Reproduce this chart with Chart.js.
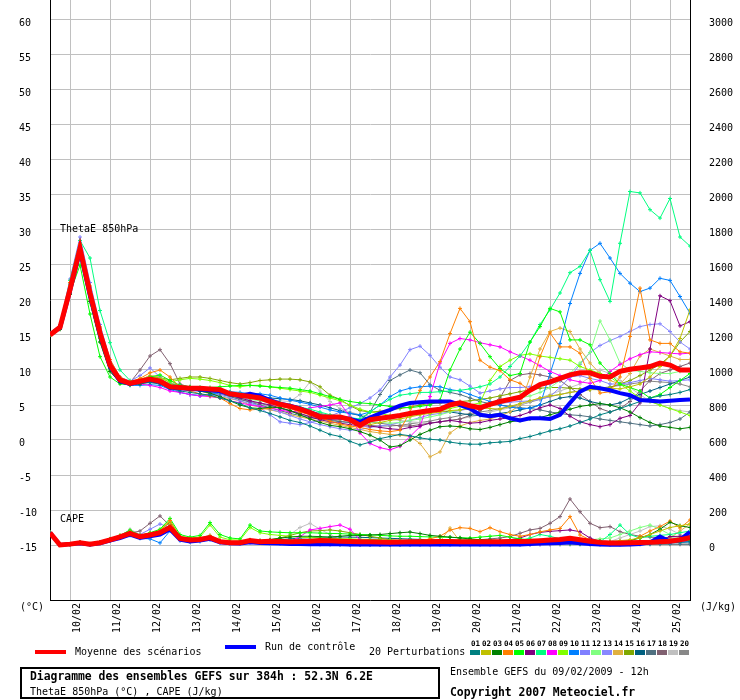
<!DOCTYPE html>
<html><head><meta charset="utf-8">
<script src="https://cdn.jsdelivr.net/npm/chart.js@4.4.1/dist/chart.umd.min.js"></script>
<style>
html,body{margin:0;padding:0;background:#fff;}
#wrap{position:relative;width:740px;height:700px;overflow:hidden;font-family:'DejaVu Sans Mono',monospace;font-size:10px;color:#000;background:#fff;}
#c{position:absolute;left:0;top:0;}
.t{position:absolute;line-height:12px;white-space:pre;}
.b{font-weight:bold;font-size:11.4px;}
.ln{position:absolute;height:4px;width:31px;}
.sw{position:absolute;top:650px;width:10px;height:5px;}
.sl{position:absolute;top:639px;width:11px;text-align:center;font-weight:bold;font-size:7.5px;line-height:9px;}
#box{position:absolute;left:20px;top:667px;width:420px;height:32px;border:2px solid #000;box-sizing:border-box;}
</style></head>
<body><div id="wrap"><canvas id="c" width="740" height="700"></canvas>
<div class="t" style="left:60px;top:223px">ThetaE 850hPa</div>
<div class="t" style="left:60px;top:513px">CAPE</div>
<div class="t" style="left:20px;top:601px">(°C)</div>
<div class="t" style="left:700px;top:601px">(J/kg)</div>
<div class="ln" style="left:35px;top:650px;background:#ff0000"></div>
<div class="t" style="left:75px;top:646px">Moyenne des scénarios</div>
<div class="ln" style="left:225px;top:645px;background:#0000ff"></div>
<div class="t" style="left:265px;top:641px">Run de contrôle</div>
<div class="t" style="left:369px;top:646px">20 Perturbations</div>
<div id="box"></div>
<div class="t b" style="left:30px;top:670px">Diagramme des ensembles GEFS sur 384h : 52.3N 6.2E</div>
<div class="t" style="left:30px;top:686px">ThetaE 850hPa (°C) , CAPE (J/kg)</div>
<div class="t" style="left:450px;top:666px">Ensemble GEFS du 09/02/2009 - 12h</div>
<div class="t b" style="left:450px;top:686px">Copyright 2007 Meteociel.fr</div>
</div>
<script>
// ---- Data ----
const xLabels = ['10/02','11/02','12/02','13/02','14/02','15/02','16/02','17/02','18/02','19/02','20/02','21/02','22/02','23/02','24/02','25/02'];
const dayHours = [12,36,60,84,108,132,156,180,204,228,252,276,300,324,348,372];
const yTicks = [60,55,50,45,40,35,30,25,20,15,10,5,0,-5,-10,-15];
const y2Ticks = [3000,2800,2600,2400,2200,2000,1800,1600,1400,1200,1000,800,600,400,200,0];
const hours = Array.from({length:65},(_,i)=>i*6);
const pertNames = ['01','02','03','04','05','06','07','08','09','10','11','12','13','14','15','16','17','18','19','20'];
const pertColors = ['#008080','#c0c000','#008000','#ff8000','#00ff00','#800080','#00ff80','#ff00ff','#80ff00','#0080ff','#8080ff','#80ff80','#8888ff','#e0b040','#80a800','#006080','#507080','#806070','#c0c0c0','#888888'];

const thetaMean = [15.0,16.1,21.5,27.4,21.0,15.3,10.7,8.6,8.1,8.4,8.7,8.4,7.6,
7.5,7.4,7.4,7.3,7.2,6.6,6.4,6.2,6.0,5.5,5.1,4.8,4.4,
3.9,3.3,3.3,3.3,2.9,2.1,2.9,3.1,3.3,3.5,3.8,4.0,4.2,
4.4,5.0,5.3,4.9,4.6,5.1,5.5,5.8,6.1,7.1,7.9,8.3,8.8,
9.3,9.6,9.6,9.1,9.0,9.8,10.1,10.3,10.5,11.0,10.7,10.0,10.0];
const thetaCtrl = [15.1,16.0,21.3,27.0,20.6,15.0,10.5,8.4,8.0,8.3,8.6,8.3,7.5,
7.4,7.3,7.2,7.1,7.0,6.5,6.3,6.6,6.3,5.7,5.2,4.9,4.5,
4.0,3.4,3.2,3.2,3.0,2.6,3.2,3.8,4.3,4.9,5.3,5.4,5.5,
5.5,5.5,5.0,4.5,3.6,3.4,3.6,3.1,2.8,3.1,3.1,3.0,3.6,
5.3,6.9,7.6,7.4,7.1,6.7,6.4,5.7,5.6,5.5,5.6,5.7,5.8];
const tP01 = [15.2,16.0,21.0,27.0,20.5,14.8,10.2,8.4,8.0,8.1,8.2,8.0,7.4,
7.0,6.8,6.6,6.4,6.0,5.6,5.2,4.6,4.2,3.8,3.3,2.8,2.5,
2.0,1.4,0.8,0.5,-0.2,-0.7,-0.3,0.2,0.5,0.8,0.6,0.3,0.1,
0.0,-0.3,-0.5,-0.6,-0.6,-0.4,-0.3,-0.2,0.2,0.5,0.9,1.3,1.6,
2.0,2.5,3.0,3.6,4.0,4.5,5.0,5.5,6.0,6.3,6.5,6.8,7.2];
const tP02 = [15.1,16.2,22.0,27.8,21.5,15.8,11.0,8.8,8.2,8.6,8.9,8.7,7.9,
7.6,7.5,7.4,7.2,7.0,6.6,6.3,6.0,5.8,5.6,5.2,4.9,4.5,
4.1,3.6,3.2,3.0,2.8,2.5,2.2,2.5,2.8,3.0,3.3,3.6,3.8,
4.0,4.2,4.3,4.5,4.6,4.5,4.4,4.8,5.2,5.6,6.0,6.3,6.5,
6.8,7.0,7.2,7.5,7.4,7.3,7.6,8.0,9.0,10.5,12.0,14.5,18.6];
const tP03 = [15.0,15.8,20.8,26.5,19.8,14.0,9.8,8.2,7.9,8.0,8.3,8.1,7.5,
7.3,7.2,7.0,6.7,6.2,5.6,5.0,4.6,4.5,4.7,4.6,4.2,3.6,
3.0,2.5,2.1,1.9,1.6,1.2,0.7,0.0,-1.0,-0.8,0.0,0.8,1.4,
1.9,2.0,1.9,1.6,1.5,1.8,2.2,2.6,2.8,3.0,3.2,3.6,4.0,
4.4,4.8,5.0,5.2,5.0,4.6,4.0,3.2,2.5,2.0,1.8,1.6,1.8];
const tP04 = [15.3,16.3,22.5,28.0,22.0,16.0,11.5,9.0,8.3,8.8,9.6,10.0,9.0,
7.5,7.0,6.6,6.3,6.0,5.2,4.5,4.3,4.4,4.5,4.8,4.5,4.0,
3.6,3.2,2.7,2.3,2.0,1.8,1.5,1.3,1.2,1.4,4.0,7.1,9.0,
11.2,15.2,18.8,16.9,11.4,10.4,9.9,8.6,8.1,7.1,11.9,15.3,13.3,
13.3,12.4,8.8,6.7,6.9,9.0,14.8,21.7,14.3,13.8,13.8,12.6,12.4];
const tP05 = [15.1,15.9,21.0,25.0,18.0,11.9,9.0,8.0,7.9,8.2,9.0,9.3,8.5,
7.8,7.6,7.5,7.5,7.6,7.7,7.8,7.8,7.7,7.6,7.5,7.4,7.2,
7.0,6.6,6.2,5.8,5.5,5.3,5.2,5.0,4.8,4.7,4.6,4.8,5.0,
5.7,10.0,13.0,15.4,13.8,11.9,10.2,9.2,9.5,14.0,16.2,18.8,18.3,
14.3,14.3,13.6,11.0,9.5,8.0,7.5,7.0,6.0,6.5,7.5,8.5,9.5];
const tP06 = [15.0,16.0,21.2,27.2,20.8,15.0,10.5,8.5,8.0,8.3,8.5,8.2,7.5,
7.3,7.2,7.1,7.0,6.8,6.4,6.0,5.6,5.3,5.0,4.6,4.2,3.8,
3.3,2.9,2.6,2.4,2.2,2.0,2.0,1.8,1.6,1.5,1.8,2.0,2.4,
2.6,2.8,2.6,2.4,2.5,2.8,3.0,3.2,3.5,4.0,4.6,5.0,4.5,
3.4,2.6,2.2,1.9,2.2,3.1,3.5,5.3,13.0,20.6,19.9,16.3,16.9];
const tP07 = [15.2,16.4,22.8,28.5,26.0,18.5,13.9,10.0,8.5,8.4,8.5,8.4,8.0,
7.8,7.6,7.5,7.3,7.0,6.8,6.6,6.3,6.0,5.7,5.3,5.0,4.7,
4.4,4.0,3.6,3.4,3.2,3.0,4.0,5.0,5.8,6.4,6.6,6.8,6.8,
6.9,7.0,7.1,7.3,7.6,8.0,9.0,10.5,12.0,14.0,16.5,18.6,21.0,
23.9,24.8,27.1,22.9,19.8,28.1,35.5,35.3,32.9,31.7,34.5,29.0,27.7];
const tP08 = [15.1,16.1,21.8,27.6,21.2,15.5,10.8,8.6,8.1,8.0,7.8,7.5,7.0,
6.8,6.5,6.3,6.2,6.0,5.6,5.3,5.0,4.8,4.6,4.3,4.0,4.2,
4.6,4.8,5.0,5.3,3.3,1.0,-0.5,-1.1,-1.4,-0.9,0.5,1.9,6.2,
11.0,13.8,14.5,14.3,13.9,13.6,13.3,12.6,12.0,11.4,10.6,9.8,9.2,
8.6,8.3,8.1,8.5,9.8,10.8,11.6,12.2,12.6,12.5,12.4,12.3,12.4];
const tP09 = [15.0,16.0,21.3,27.0,20.0,14.5,10.0,8.4,8.1,8.6,9.0,8.8,8.3,
8.6,8.8,8.7,8.5,8.2,7.8,7.6,7.8,7.8,7.6,7.4,7.2,7.0,
6.8,6.4,6.0,5.6,5.0,4.4,4.0,3.8,3.5,3.3,3.5,3.7,3.9,
4.2,4.5,4.8,5.0,5.3,8.5,10.5,11.4,12.1,12.3,12.0,11.8,11.6,
11.4,10.5,10.0,9.5,9.0,8.0,7.0,6.0,5.5,5.0,4.5,4.0,3.5];
const tP10 = [15.1,16.2,21.6,27.2,20.5,15.0,10.5,8.2,7.8,7.8,7.9,7.8,7.2,
6.8,6.5,6.3,6.5,6.8,6.9,6.8,6.6,6.6,6.4,6.0,5.7,5.4,
5.1,4.7,4.3,4.0,3.8,3.6,4.0,5.0,6.2,7.0,7.4,7.6,7.7,
7.6,7.2,7.0,6.5,6.0,5.5,5.0,4.7,4.5,4.5,5.0,9.5,13.8,
19.5,23.8,27.1,28.1,26.0,23.8,22.4,21.2,21.7,23.1,22.8,20.5,18.1];
const tP11 = [15.3,16.5,23.0,29.0,22.5,16.5,11.5,9.0,8.4,9.2,10.3,9.0,7.5,
6.8,6.5,6.4,6.3,6.5,6.6,6.4,5.6,4.6,3.6,2.6,2.4,2.2,
2.5,2.8,3.4,4.0,4.6,5.2,6.0,7.1,9.0,10.7,12.9,13.4,12.1,
10.4,9.0,8.6,7.7,6.7,7.0,7.3,7.5,7.5,7.6,7.8,8.0,8.5,
9.0,9.2,8.8,8.5,8.0,8.0,8.2,8.5,8.8,8.6,8.4,8.5,8.6];
const tP12 = [15.0,15.9,21.0,26.0,19.5,14.0,9.8,8.2,8.0,8.2,8.5,8.4,7.8,
7.5,7.3,7.2,7.0,6.7,6.3,6.0,5.8,5.6,5.3,5.0,4.6,4.3,
4.0,3.7,3.4,3.2,3.0,2.8,2.6,2.5,2.4,2.5,2.8,3.0,3.3,
3.6,4.0,4.3,4.6,5.0,5.3,5.6,5.8,6.0,6.3,6.8,7.5,8.5,
9.5,11.0,12.5,17.0,14.3,11.0,10.0,9.8,9.6,9.5,9.5,9.8,10.0];
const tP13 = [15.2,16.3,22.2,28.2,21.8,16.0,11.2,8.9,8.3,8.6,9.0,8.7,8.0,
7.6,7.3,7.0,6.7,6.4,6.0,5.6,5.2,4.8,4.4,4.0,3.5,3.0,
2.6,2.2,1.9,1.6,1.4,1.5,1.8,2.0,2.2,2.5,2.8,3.2,3.6,
3.8,4.0,4.2,4.5,4.7,5.0,5.2,5.4,5.5,5.6,5.8,6.2,7.5,
9.0,10.8,12.5,13.5,14.2,14.8,15.5,16.2,16.5,16.6,15.5,14.0,13.0];
const tP14 = [15.3,16.4,22.4,27.6,21.8,16.2,11.2,8.8,8.2,8.6,9.2,9.0,8.2,
7.7,7.4,7.0,6.6,6.2,5.9,5.6,5.0,4.7,4.3,4.0,3.6,3.3,
3.0,2.7,2.4,2.1,1.8,1.5,1.2,1.0,0.8,0.7,0.5,-0.5,-2.4,
-1.7,1.0,2.0,2.5,2.8,3.0,3.5,4.0,5.0,9.0,13.0,15.5,16.0,
15.5,13.0,11.0,9.5,8.5,8.0,9.5,12.0,13.0,12.5,12.0,11.5,11.5];
const tP15 = [15.1,16.2,21.6,27.3,21.2,15.6,11.0,8.7,8.2,8.7,9.0,8.9,8.6,
8.8,9.0,9.0,8.8,8.5,8.2,8.0,8.2,8.5,8.6,8.7,8.7,8.6,
8.3,7.6,6.4,5.8,4.9,4.2,4.0,4.1,4.3,4.5,4.7,5.0,5.2,
5.3,5.4,5.5,5.6,5.8,6.0,6.3,6.6,6.9,7.2,7.4,7.5,7.5,
7.4,7.3,7.2,7.2,7.5,8.0,8.5,9.2,10.0,10.8,12.0,14.0,15.5];
const tP16 = [15.2,16.1,21.9,27.6,21.6,15.7,11.0,8.7,8.1,8.5,8.7,8.5,7.9,
7.6,7.5,7.4,7.3,7.1,6.8,6.6,6.4,6.2,6.0,5.9,5.8,5.6,
5.3,5.0,4.6,4.2,3.8,3.5,3.0,3.0,3.2,3.4,3.6,3.8,4.0,
4.2,4.0,3.8,3.6,3.5,3.6,3.8,4.0,4.3,4.6,5.0,5.5,6.0,
6.2,6.0,5.5,5.2,5.0,5.3,6.0,6.5,7.0,7.5,8.0,8.5,9.0];
const tP17 = [15.0,16.0,21.4,27.2,21.0,15.4,10.9,8.6,8.1,8.5,8.8,8.6,7.8,
7.4,7.2,7.1,6.9,6.6,6.2,5.8,5.4,5.0,4.6,4.2,3.8,3.5,
3.2,3.0,2.8,2.6,2.5,2.8,4.0,6.5,8.5,9.3,10.0,9.6,7.9,
7.1,6.8,6.5,6.0,5.5,5.2,5.0,4.8,4.6,4.5,4.3,4.0,3.8,
3.6,3.5,3.3,3.0,2.8,2.6,2.4,2.2,2.0,2.2,2.5,3.0,4.0];
const tP18 = [15.1,16.1,21.7,27.5,21.4,15.8,11.2,8.7,8.2,10.0,12.0,12.9,10.9,
8.0,7.5,7.2,7.0,6.8,6.5,6.2,6.0,5.8,5.5,5.2,4.8,4.4,
4.1,3.8,3.5,3.2,3.0,2.8,2.6,2.4,2.2,2.0,2.0,2.2,2.4,
2.6,2.8,3.0,3.5,4.2,5.0,6.0,8.5,9.3,9.5,9.3,9.0,8.5,
7.5,6.5,5.5,4.5,4.0,4.5,5.5,7.0,8.5,9.5,10.0,10.5,11.0];
const tP19 = [15.0,16.0,21.5,27.3,21.0,15.3,10.7,8.5,8.1,8.6,9.2,9.0,8.2,
7.8,7.6,7.4,7.3,7.1,6.8,6.5,6.2,6.0,5.8,5.6,5.5,6.5,
8.3,7.0,5.5,4.5,4.0,3.6,3.4,3.2,3.0,2.8,2.6,2.5,2.4,
2.6,2.8,3.0,3.3,3.6,4.0,4.3,4.6,5.0,5.5,6.0,6.5,7.0,
7.5,8.0,9.0,10.0,9.5,8.5,7.5,6.5,5.5,5.0,4.5,4.2,4.0];
const tP20 = [15.2,16.2,22.0,27.8,21.5,15.6,11.0,8.7,8.2,8.5,8.9,8.7,8.0,
7.6,7.4,7.2,7.0,6.6,6.2,5.8,5.5,5.2,4.9,4.5,4.1,3.7,
3.4,3.1,2.9,2.7,2.5,2.3,2.1,2.0,2.0,2.1,2.3,2.5,2.7,
3.0,3.2,3.5,3.8,4.0,4.2,4.5,4.8,5.0,5.4,5.8,6.2,6.5,
6.8,7.0,7.2,7.4,7.6,7.8,8.0,8.2,8.4,8.3,8.2,8.0,7.6];

const capeMean = [70,0,5,13,5,13,29,47,67,47,57,70,101,
38,29,32,42,19,13,13,25,19,22,20,18,20,
22,25,24,22,20,18,18,17,16,17,18,18,19,
20,20,19,18,18,18,19,20,20,21,24,28,32,
38,30,22,15,12,12,13,14,15,18,22,30,42];
const capeCtrl = [70,0,5,10,3,10,25,40,60,40,50,60,90,
30,20,25,35,15,10,8,15,12,10,8,6,5,
5,5,4,4,3,3,3,3,3,3,3,3,3,
3,3,3,3,3,3,3,3,3,5,8,10,12,
15,10,5,3,2,2,3,5,15,48,20,30,76];
const cP01 = [70,0,5,12,5,12,27,45,62,45,52,65,95,
35,25,28,38,17,12,12,22,18,15,12,10,8,
8,7,6,5,5,4,4,3,3,3,4,5,6,
8,10,12,14,16,18,20,20,18,16,14,12,10,
8,6,5,4,4,5,6,8,10,12,14,16,18];
const cP02 = [70,0,5,14,6,14,30,50,72,50,60,75,110,
40,30,34,45,20,14,14,26,20,18,16,15,14,
14,13,12,12,12,11,10,10,10,10,10,12,14,
15,16,18,20,20,20,18,16,15,14,15,18,22,
30,25,20,18,20,25,30,40,60,80,100,110,120];
const cP03 = [70,0,5,13,5,14,30,48,70,50,60,75,105,
40,32,35,45,22,16,16,28,25,30,40,45,50,
50,48,45,50,55,55,57,60,65,70,74,65,55,
50,45,40,35,30,28,25,22,20,20,22,25,28,
30,28,25,22,20,20,25,40,60,90,130,110,100];
const cP04 = [70,0,5,15,6,15,32,52,75,55,65,80,140,
45,35,40,50,25,15,14,25,20,15,12,10,10,
10,10,10,12,12,12,12,12,12,15,20,25,35,
50,85,99,95,76,99,76,60,50,60,75,86,95,
162,57,30,20,15,12,20,50,80,105,137,97,143];
const cP05 = [70,0,5,15,6,16,35,55,85,55,70,90,152,
60,45,55,128,60,40,35,114,80,75,72,70,70,
70,68,66,65,62,60,58,55,52,50,50,48,46,
45,44,42,40,45,50,55,45,35,30,25,20,18,
15,12,10,8,8,10,12,15,18,20,22,25,28];
const cP06 = [70,0,5,13,5,13,28,46,65,46,55,68,98,
36,28,30,40,18,12,12,22,18,15,12,10,8,
7,6,5,5,4,4,4,5,6,8,10,10,10,
12,14,16,18,20,22,25,30,40,60,72,78,82,
86,76,40,20,10,8,8,10,15,30,48,50,52];
const cP07 = [70,0,5,13,5,13,29,47,67,47,57,70,101,
38,29,32,42,19,13,13,25,19,20,22,25,28,
30,30,28,28,26,25,24,22,22,20,20,20,20,
22,25,28,30,28,25,22,20,25,40,60,50,35,
30,25,20,18,60,114,60,40,50,55,60,70,80];
const cP08 = [70,0,5,12,5,12,28,46,64,46,55,68,95,
36,27,30,40,18,12,12,20,15,12,10,20,48,
86,95,105,114,90,29,15,10,8,6,5,5,5,
5,5,5,5,5,5,5,5,5,5,6,8,10,
12,12,10,8,8,10,12,14,16,18,20,22,25];
const cP09 = [70,0,5,14,6,15,33,53,80,55,68,85,140,
50,40,45,115,45,30,28,100,70,60,55,50,45,
42,40,38,36,35,33,32,30,28,26,25,24,22,
20,18,16,15,14,12,10,8,8,8,8,8,8,
8,8,8,8,8,8,10,12,15,20,22,25,28];
const cP10 = [70,0,5,10,3,10,24,40,55,38,35,12,80,
25,18,20,30,12,8,8,15,12,10,8,6,5,
5,4,4,3,3,3,3,3,3,3,3,3,3,
3,3,3,3,3,3,3,3,3,3,5,8,10,
12,10,8,6,5,5,5,6,8,10,12,15,20];
const cP11 = [70,0,5,13,5,14,30,50,70,60,90,120,100,
38,29,32,42,19,13,13,25,19,15,12,10,8,
6,5,5,4,4,4,4,4,4,4,4,4,4,
4,4,4,4,4,4,4,4,4,5,6,8,10,
12,14,16,15,12,10,10,12,14,16,18,20,22];
const cP12 = [70,0,5,13,5,13,29,47,67,47,57,70,105,
38,29,32,45,19,13,13,28,22,18,15,12,10,
10,9,8,8,8,7,7,7,7,7,7,7,7,
7,7,7,7,7,7,8,8,9,10,12,15,18,
20,25,30,35,40,60,80,100,114,90,60,40,30];
const cP13 = [70,0,5,13,5,13,29,47,67,47,57,70,101,
38,29,32,42,19,13,13,25,19,15,12,10,8,
7,6,5,5,4,4,4,4,4,4,4,4,4,
4,4,4,4,4,4,4,4,4,4,4,4,4,
5,5,5,5,5,5,6,8,10,12,14,16,18];
const cP14 = [70,0,5,14,6,14,30,50,72,50,60,75,110,
40,30,34,45,20,14,14,26,20,15,12,10,8,
7,6,5,5,5,5,5,5,5,5,5,5,5,
20,97,20,10,8,8,8,8,8,8,8,8,8,
8,8,8,8,8,8,10,12,15,20,40,80,120];
const cP15 = [70,0,5,14,6,15,32,52,78,55,66,82,130,
45,35,40,55,25,18,16,30,25,30,40,55,70,
80,82,86,80,70,60,50,40,30,25,20,18,16,
15,14,13,12,12,12,12,12,12,12,12,12,12,
12,12,12,12,12,12,12,12,12,14,16,18,20];
const cP16 = [70,0,5,13,5,13,29,47,67,47,57,70,101,
38,29,32,42,19,13,13,25,19,25,30,35,40,
42,44,45,46,45,44,42,40,38,36,34,32,30,
28,26,24,22,20,18,16,14,12,10,10,10,10,
10,10,10,10,10,10,10,12,14,16,18,20,22];
const cP17 = [70,0,5,13,5,13,29,47,67,47,57,70,101,
38,29,32,42,19,13,13,25,19,15,12,10,8,
6,5,5,5,5,5,5,5,5,5,5,5,5,
5,5,5,5,5,5,5,5,5,5,5,5,5,
5,5,5,5,5,5,5,5,5,5,5,5,5];
const cP18 = [70,0,5,13,5,13,29,47,67,80,124,166,110,
40,30,34,44,20,14,14,26,20,15,12,10,8,
8,8,8,10,12,14,16,18,20,20,20,20,20,
20,22,25,28,30,35,40,48,67,86,95,124,162,
263,190,124,99,105,76,60,50,45,42,40,38,36];
const cP19 = [70,0,5,13,5,14,30,50,90,60,60,72,100,
38,29,32,42,19,13,13,25,19,20,30,60,100,
124,90,60,30,20,15,12,10,10,10,10,10,10,
10,10,10,10,10,10,10,10,10,10,10,10,10,
10,10,10,10,20,40,60,80,105,110,90,60,40];
const cP20 = [70,0,5,13,5,13,29,47,67,47,57,70,101,
38,29,32,42,19,13,13,25,19,15,12,10,8,
6,5,5,4,4,4,4,4,4,4,4,4,4,
4,4,4,4,4,4,4,4,4,4,4,4,4,
4,4,4,4,4,4,4,4,4,4,4,4,4];

const thetaPerts = [tP01,tP02,tP03,tP04,tP05,tP06,tP07,tP08,tP09,tP10,tP11,tP12,tP13,tP14,tP15,tP16,tP17,tP18,tP19,tP20];
const capePerts = [cP01,cP02,cP03,cP04,cP05,cP06,cP07,cP08,cP09,cP10,cP11,cP12,cP13,cP14,cP15,cP16,cP17,cP18,cP19,cP20];

// ---- Axis ranges (pixel grid: 7 px per degree) ----
const yMin = -160/7, yMax = 440/7;
const y2Min = (yMin + 15) * 40, y2Max = (yMax + 15) * 40;

const FONT = "'DejaVu Sans Mono', monospace";
const pts = arr => arr.map((v,i)=>({x:hours[i], y:v}));

const datasets = [];
datasets.push({data:pts(thetaMean), yAxisID:'y', borderColor:'#ff0000', borderWidth:5, pointRadius:0});
datasets.push({data:pts(capeMean), yAxisID:'y2', borderColor:'#ff0000', borderWidth:5, pointRadius:0});
datasets.push({data:pts(thetaCtrl), yAxisID:'y', borderColor:'#0000ff', borderWidth:4, pointRadius:0});
datasets.push({data:pts(capeCtrl), yAxisID:'y2', borderColor:'#0000ff', borderWidth:4, pointRadius:0});
thetaPerts.forEach((arr,k)=>{
  datasets.push({data:pts(arr), yAxisID:'y', borderColor:pertColors[k], borderWidth:1,
    pointStyle:'cross', pointRadius:2, pointBorderColor:pertColors[k], pointBorderWidth:1});
});
capePerts.forEach((arr,k)=>{
  datasets.push({data:pts(arr), yAxisID:'y2', borderColor:pertColors[k], borderWidth:1,
    pointStyle:'cross', pointRadius:2, pointBorderColor:pertColors[k], pointBorderWidth:1});
});

new Chart(document.getElementById('c'), {
  type:'line',
  data:{datasets},
  options:{
    responsive:false, animation:false, devicePixelRatio:1,
    layout:{autoPadding:false, padding:{left:19, right:0, top:0, bottom:60}},
    plugins:{legend:{display:false}, tooltip:{enabled:false}, title:{display:false}},
    elements:{line:{tension:0, fill:false}},
    scales:{
      x:{type:'linear', min:0, max:384,
        grid:{color:'#c0c0c0', lineWidth:1, drawTicks:false},
        border:{color:'#000', width:1},
        ticks:{autoSkip:false, maxRotation:90, minRotation:90, labelOffset:7, padding:3,
          color:'#000', font:{family:FONT, size:10},
          callback:(v)=>{const k=dayHours.indexOf(v); return k>=0?xLabels[k]:'';}},
        afterBuildTicks:s=>{s.ticks = dayHours.map(v=>({value:v}));},
        afterFit:s=>{s.height=40; s.paddingLeft=0; s.paddingRight=0;}
      },
      y:{position:'left', min:yMin, max:yMax,
        grid:{color:'#c0c0c0', lineWidth:1, drawTicks:false},
        border:{color:'#000', width:1},
        ticks:{crossAlign:'far', labelOffset:3, padding:4, color:'#000', font:{family:FONT, size:10},
          callback:(v)=>String(v)},
        afterBuildTicks:s=>{s.ticks = yTicks.map(v=>({value:v}));},
        afterFit:s=>{s.width=31; s.paddingTop=0; s.paddingBottom=0;}
      },
      y2:{position:'right', min:y2Min, max:y2Max,
        grid:{display:false, drawTicks:false},
        border:{color:'#000', width:1},
        ticks:{labelOffset:3, padding:19, color:'#000', font:{family:FONT, size:10},
          callback:(v)=>String(v)},
        afterBuildTicks:s=>{s.ticks = y2Ticks.map(v=>({value:v}));},
        afterFit:s=>{s.width=50; s.paddingTop=0; s.paddingBottom=0;}
      }
    }
  }
});

// legend swatches for the 20 perturbations
const wrap = document.getElementById('wrap');
pertNames.forEach((n,k)=>{
  const sw = document.createElement('div');
  sw.className='sw'; sw.style.left=(470+11*k)+'px'; sw.style.background=pertColors[k];
  wrap.appendChild(sw);
  const sl = document.createElement('div');
  sl.className='sl'; sl.style.left=(470+11*k)+'px'; sl.textContent=n;
  wrap.appendChild(sl);
});
</script>
</body></html>
